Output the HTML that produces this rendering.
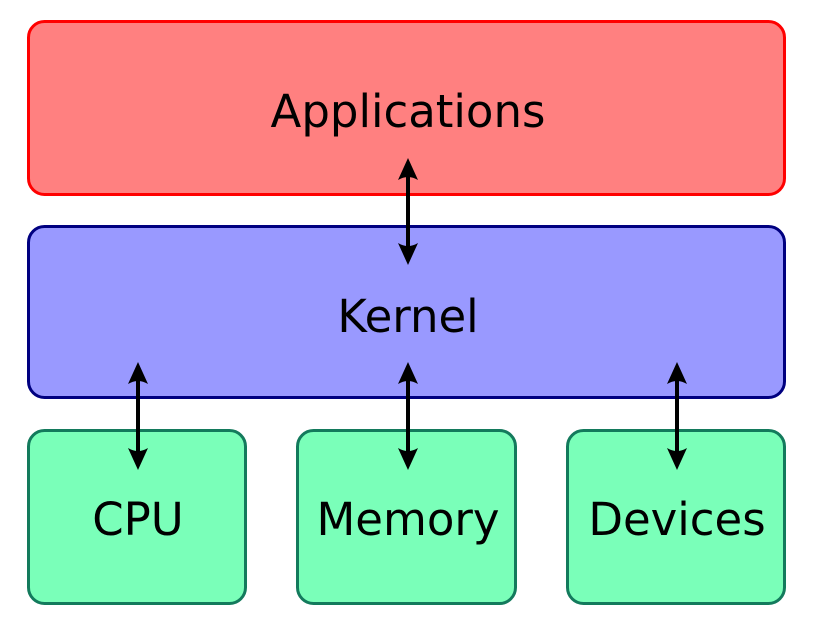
<!DOCTYPE html>
<html><head><meta charset="utf-8"><style>html,body{margin:0;padding:0;background:#fff}svg{display:block}</style></head>
<body>
<svg width="816" height="633" viewBox="0 0 816 633" xmlns="http://www.w3.org/2000/svg">
<defs>
<g id="ah"><path d="M0,0 L10,22 Q0,16 -10,22 Z" fill="#000"/></g>
</defs>
<rect x="28.5" y="21.5" width="756" height="173" rx="16" fill="#ff8080" stroke="#ff0000" stroke-width="3"/>
<rect x="28.5" y="226.5" width="756" height="171" rx="16" fill="#9999ff" stroke="#000080" stroke-width="3"/>
<rect x="28.5" y="430.5" width="217" height="173" rx="16" fill="#7affb9" stroke="#137a5c" stroke-width="3"/>
<rect x="297.5" y="430.5" width="218" height="173" rx="16" fill="#7affb9" stroke="#137a5c" stroke-width="3"/>
<rect x="567.5" y="430.5" width="217" height="173" rx="16" fill="#7affb9" stroke="#137a5c" stroke-width="3"/>
<g font-family="DejaVu Sans, Liberation Sans, sans-serif" font-size="45" fill="#000" text-anchor="middle">
<text x="408" y="127">Applications</text>
<text x="408" y="332">Kernel</text>
<text x="138" y="535">CPU</text>
<text x="408" y="535">Memory</text>
<text x="677" y="535">Devices</text>
</g>
<g stroke="#000" stroke-width="4">
<line x1="408" y1="170" x2="408" y2="253"/>
<line x1="138" y1="375" x2="138" y2="458"/>
<line x1="408" y1="375" x2="408" y2="458"/>
<line x1="677" y1="375" x2="677" y2="458"/>
</g>
<use href="#ah" transform="translate(408,158)"/>
<use href="#ah" transform="translate(408,265) scale(1,-1)"/>
<use href="#ah" transform="translate(138,362)"/>
<use href="#ah" transform="translate(138,470) scale(1,-1)"/>
<use href="#ah" transform="translate(408,362)"/>
<use href="#ah" transform="translate(408,470) scale(1,-1)"/>
<use href="#ah" transform="translate(677,362)"/>
<use href="#ah" transform="translate(677,470) scale(1,-1)"/>
</svg>
</body></html>
